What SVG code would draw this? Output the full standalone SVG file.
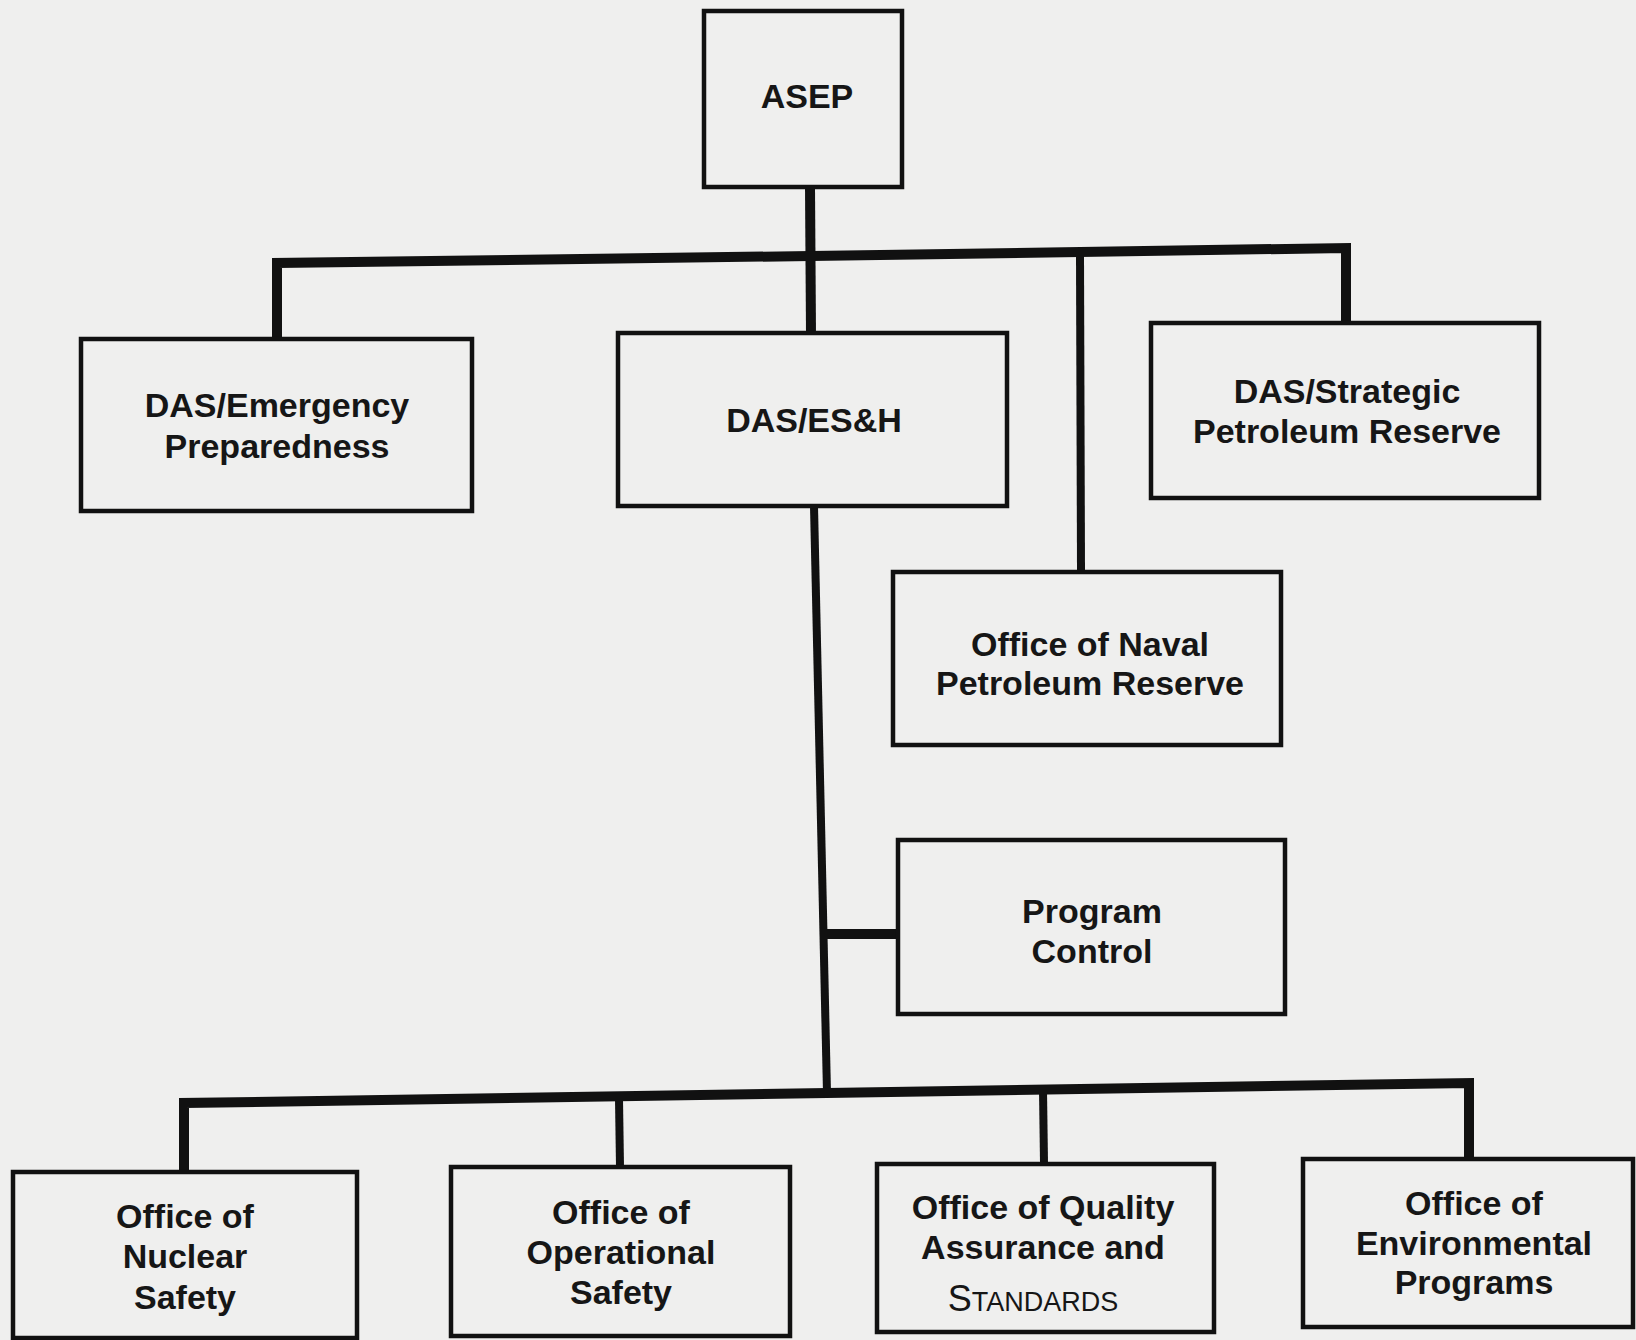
<svg xmlns="http://www.w3.org/2000/svg" width="1636" height="1340" viewBox="0 0 1636 1340">
<style>
.box{fill:none;stroke:#111;stroke-width:4.5}
.con{fill:none;stroke:#111;stroke-width:10;stroke-linejoin:miter;stroke-linecap:butt}
.thin{fill:none;stroke:#111;stroke-width:8}
text{font-family:"Liberation Sans",Arial,sans-serif;font-weight:bold;font-size:34px;fill:#161616;text-anchor:middle}
</style>
<rect width="1636" height="1340" fill="#efefee"/>
<g id="connectors">
<path class="con" d="M810 187 L811 334"/>
<path class="con" d="M277 339 L277 263 L811 256 L1346 248 L1346 323"/>
<path class="thin" d="M1080 256 L1081 572"/>
<path class="thin" d="M814 506 L827 1093"/>
<path class="con" d="M827 934 L897 934"/>
<path class="con" d="M184 1172 L184 1103 L827 1093 L1469 1083 L1469 1158"/>
<path class="thin" d="M619 1099 L620 1167"/>
<path class="thin" d="M1043 1090 L1044 1163"/>
</g>
<g id="asep"><rect class="box" x="704" y="11" width="198" height="176"/><text x="807" y="108">ASEP</text></g>
<g id="das-emergency"><rect class="box" x="81" y="339" width="391" height="172"/><text x="277" y="417">DAS/Emergency</text><text x="277" y="458">Preparedness</text></g>
<g id="das-esh"><rect class="box" x="618" y="333" width="389" height="173"/><text x="814" y="432">DAS/ES&amp;H</text></g>
<g id="das-strategic"><rect class="box" x="1151" y="323" width="388" height="175"/><text x="1347" y="403">DAS/Strategic</text><text x="1347" y="443">Petroleum Reserve</text></g>
<g id="naval"><rect class="box" x="893" y="572" width="388" height="173"/><text x="1090" y="656">Office of Naval</text><text x="1090" y="695">Petroleum Reserve</text></g>
<g id="program-control"><rect class="box" x="898" y="840" width="387" height="174"/><text x="1092" y="923">Program</text><text x="1092" y="963">Control</text></g>
<g id="nuclear"><rect class="box" x="13" y="1172" width="344" height="166"/><text x="185" y="1228">Office of</text><text x="185" y="1268">Nuclear</text><text x="185" y="1309">Safety</text></g>
<g id="operational"><rect class="box" x="451" y="1167" width="339" height="169"/><text x="621" y="1224">Office of</text><text x="621" y="1264">Operational</text><text x="621" y="1304">Safety</text></g>
<g id="quality"><rect class="box" x="877" y="1164" width="337" height="168"/><text x="1043" y="1219">Office of Quality</text><text x="1043" y="1259">Assurance and</text><text x="1033" y="1311" style="font-weight:normal"><tspan font-size="36">S</tspan><tspan font-size="27">TANDARDS</tspan></text></g>
<g id="environmental"><rect class="box" x="1303" y="1159" width="330" height="168"/><text x="1474" y="1215">Office of</text><text x="1474" y="1255">Environmental</text><text x="1474" y="1294">Programs</text></g>
</svg>
